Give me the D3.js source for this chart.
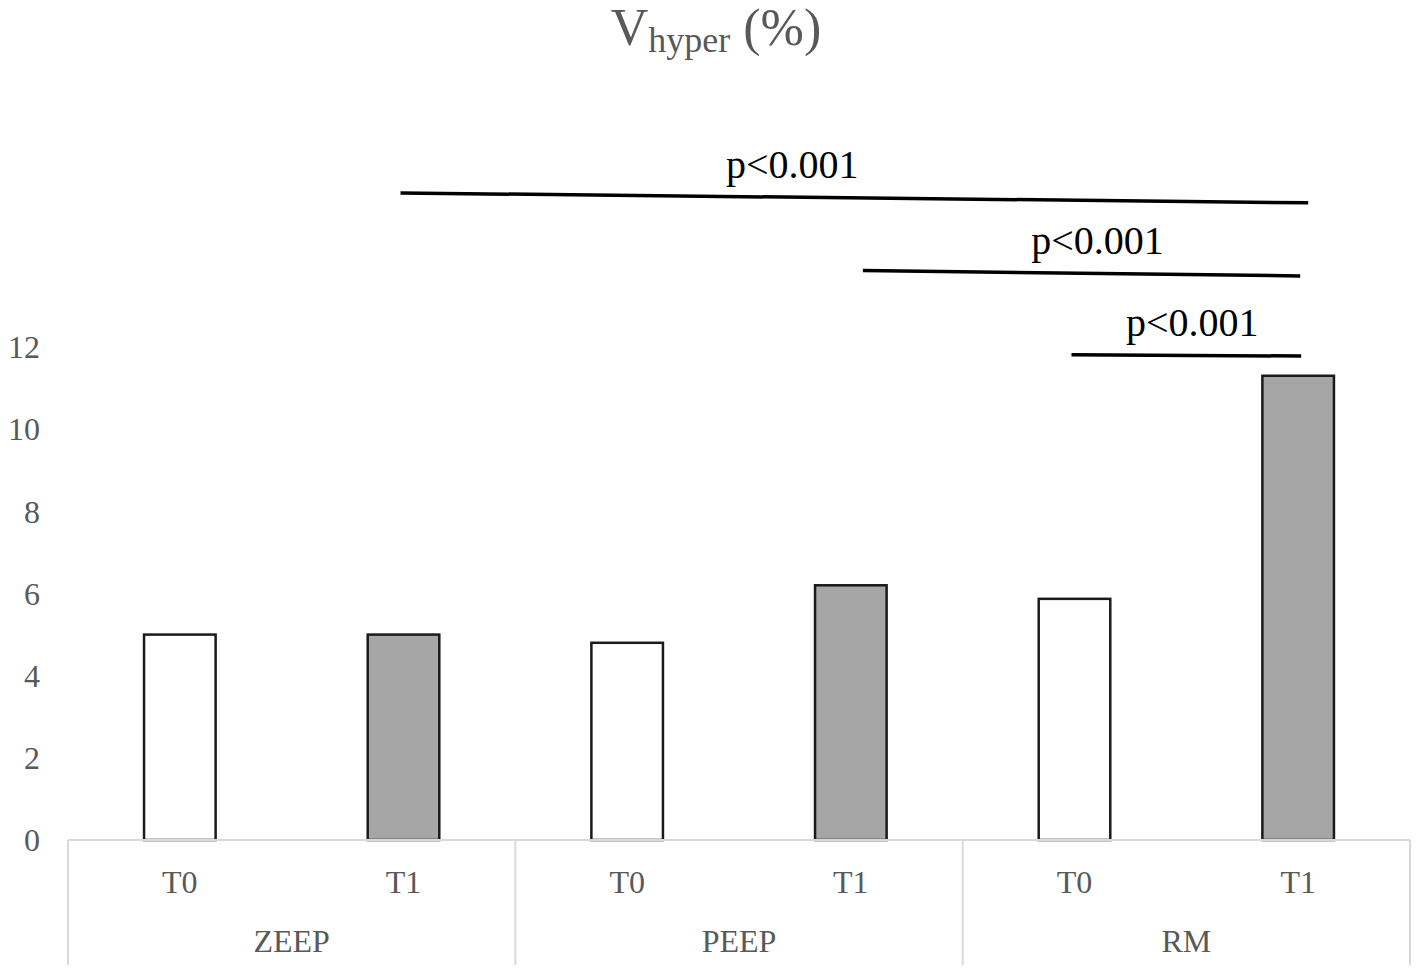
<!DOCTYPE html>
<html>
<head>
<meta charset="utf-8">
<script src="https://cdn.jsdelivr.net/npm/d3@7"></script>
<style>
  body { margin: 0; background: #fff; }
  text { font-family: "Liberation Serif", "Times New Roman", serif; }
</style>
</head>
<body>
<div id="chart"></div>
<script>
// Data
var groups = ["ZEEP", "PEEP", "RM"];
var times = ["T0", "T1"];
var values = [5.0, 5.0, 4.8, 6.2, 5.87, 11.3]; // ZEEP T0, ZEEP T1, PEEP T0, ...
var yTicks = [0, 2, 4, 6, 8, 10, 12];

// significance brackets: from/to category index, y at each end (in %)
var sigFrom = [1, 3, 4];
var sigTo = [5, 5, 5];
var sigYStart = [15.75, 13.86, 11.81];
var sigYEnd = [15.51, 13.73, 11.78];
var sigLabels = ["p<0.001", "p<0.001", "p<0.001"];

var barData = [];
groups.forEach(function (g, gi) {
  times.forEach(function (t, ti) {
    barData.push({ key: g + "-" + t, group: g, time: t, value: values[gi * 2 + ti] });
  });
});

var svg = d3.select("#chart").append("svg")
  .attr("width", 1418)
  .attr("height", 973);

var left = 68, right = 1410, bottom = 840, top12 = 347;

var x = d3.scaleBand()
  .domain(barData.map(function (d) { return d.key; }))
  .range([left, right])
  .paddingInner(0.68)
  .paddingOuter(0.34);

var y = d3.scaleLinear().domain([0, 12]).range([bottom, top12]);

// title
var title = svg.append("text")
  .attr("x", 716)
  .attr("y", 45)
  .attr("text-anchor", "middle")
  .style("fill", "#595959")
  .style("font-size", "52px");
title.append("tspan").text("V");
title.append("tspan").attr("dy", 7).style("font-size", "36px").text("hyper");
title.append("tspan").attr("dy", -7).text(" (%)");

// y tick labels (no axis line)
svg.selectAll(".ytick")
  .data(yTicks)
  .enter()
  .append("text")
  .attr("class", "ytick")
  .attr("x", 40)
  .attr("y", function (d) { return y(d); })
  .attr("dy", "0.35em")
  .attr("text-anchor", "end")
  .style("fill", "#595959")
  .style("font-size", "32px")
  .text(function (d) { return d; });

// bars
svg.selectAll(".bar")
  .data(barData)
  .enter()
  .append("rect")
  .attr("class", "bar")
  .attr("x", function (d) { return x(d.key); })
  .attr("y", function (d) { return y(d.value); })
  .attr("width", x.bandwidth())
  .attr("height", function (d) { return y(0) - y(d.value); })
  .style("fill", function (d) { return d.time === "T1" ? "#a6a6a6" : "#ffffff"; })
  .style("stroke", "#1a1a1a")
  .style("stroke-width", 2.5);

// category axis: baseline and group dividers
svg.append("line")
  .attr("x1", left).attr("x2", right)
  .attr("y1", bottom).attr("y2", bottom)
  .style("stroke", "#d9d9d9").style("stroke-width", 2);

var groupStep = (right - left) / groups.length;
var dividers = d3.range(groups.length + 1).map(function (i) { return left + i * groupStep; });
svg.selectAll(".divider")
  .data(dividers)
  .enter()
  .append("line")
  .attr("class", "divider")
  .attr("x1", function (d) { return d; })
  .attr("x2", function (d) { return d; })
  .attr("y1", bottom)
  .attr("y2", 965)
  .style("stroke", "#d9d9d9")
  .style("stroke-width", 2);

svg.selectAll(".tlabel")
  .data(barData)
  .enter()
  .append("text")
  .attr("class", "tlabel")
  .attr("x", function (d) { return x(d.key) + x.bandwidth() / 2; })
  .attr("y", 893)
  .attr("text-anchor", "middle")
  .style("fill", "#595959")
  .style("font-size", "32px")
  .text(function (d) { return d.time; });

svg.selectAll(".glabel")
  .data(groups)
  .enter()
  .append("text")
  .attr("class", "glabel")
  .attr("x", function (d, i) { return left + (i + 0.5) * groupStep; })
  .attr("y", 952)
  .attr("text-anchor", "middle")
  .style("fill", "#595959")
  .style("font-size", "32px")
  .text(function (d) { return d; });

// significance lines
var keys = barData.map(function (d) { return d.key; });
function cx(i) { return x(keys[i]) + x.bandwidth() / 2; }
var startShift = [-3, 12, -3];
var endShift = [10, 2, 3];
var labelShift = [-62, 16, 6];

sigLabels.forEach(function (lab, i) {
  var x1 = cx(sigFrom[i]) + startShift[i];
  var x2 = cx(sigTo[i]) + endShift[i];
  var y1 = y(sigYStart[i]);
  var y2 = y(sigYEnd[i]);
  svg.append("line")
    .attr("x1", x1).attr("x2", x2)
    .attr("y1", y1).attr("y2", y2)
    .style("stroke", "#000")
    .style("stroke-width", 3.5);
  var lx = (x1 + x2) / 2 + labelShift[i];
  var ly = y1 + (y2 - y1) * (lx - x1) / (x2 - x1);
  svg.append("text")
    .attr("x", lx)
    .attr("y", ly - 19)
    .attr("text-anchor", "middle")
    .style("fill", "#000")
    .style("font-size", "40px")
    .text(lab);
});
</script>
</body>
</html>
